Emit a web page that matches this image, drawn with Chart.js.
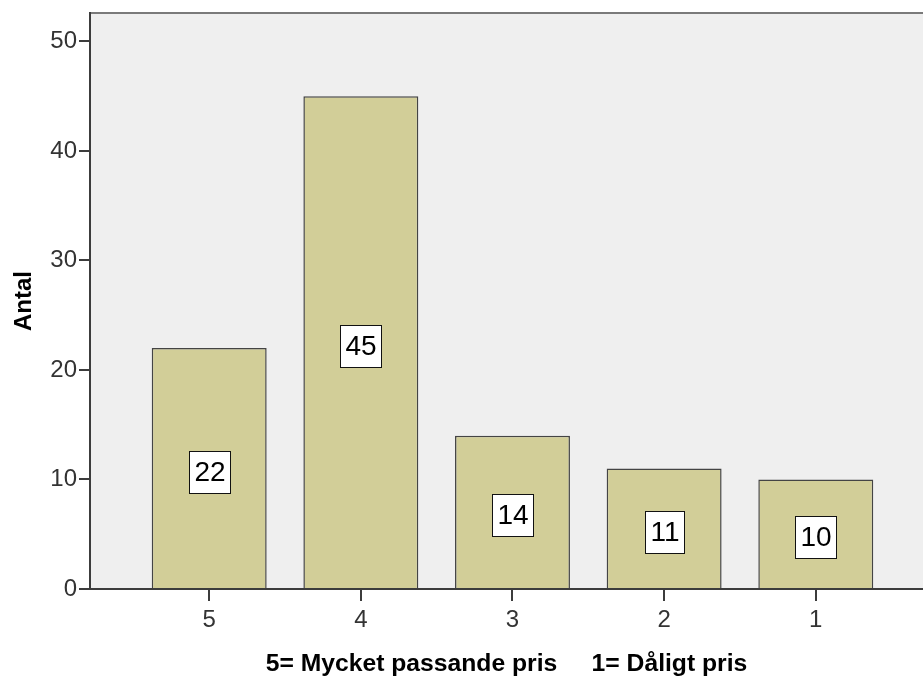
<!DOCTYPE html>
<html>
<head>
<meta charset="utf-8">
<script src="https://cdn.jsdelivr.net/npm/chart.js@4/dist/chart.umd.min.js"></script>
<style>
  html, body { margin: 0; padding: 0; background: #fff; overflow: hidden; }
  canvas { display: block; }
</style>
</head>
<body>
<canvas id="chart" width="923" height="677"></canvas>
<script>
const categories = ["5", "4", "3", "2", "1"]
const counts = [22, 45, 14, 11, 10]
const yTicks = [0, 10, 20, 30, 40, 50]
const yTitle = "Antal"
const xTitle = "5= Mycket passande pris     1= Dåligt pris"

const FONT = "'Liberation Sans', Arial, sans-serif"
const AXIS = "#3c3c3c"

// grey panel behind the bars plus the top frame line
const plotBackground = {
    id: "plotBackground",
    beforeDraw(chart) {
        const { ctx, chartArea: a } = chart
        ctx.save()
        ctx.fillStyle = "#efefef"
        ctx.fillRect(a.left, a.top, a.right - a.left, a.bottom - a.top)
        ctx.strokeStyle = "#7a7a7a"
        ctx.lineWidth = 2
        ctx.beginPath()
        ctx.moveTo(a.left, a.top)
        ctx.lineTo(a.right, a.top)
        ctx.stroke()
        ctx.restore()
    },
}

// boxed count in the middle of each bar
const boxedLabels = {
    id: "boxedLabels",
    afterDatasetsDraw(chart) {
        const { ctx } = chart
        const meta = chart.getDatasetMeta(0)
        ctx.save()
        ctx.font = "28px " + FONT
        ctx.textAlign = "center"
        ctx.textBaseline = "middle"
        meta.data.forEach((bar, i) => {
            const text = String(counts[i])
            const w = Math.round(ctx.measureText(text).width + 10)
            const h = 42
            const left = Math.round(bar.x - w / 2) + 0.5
            const top = Math.round((bar.y + bar.base) / 2 + 3.5 - h / 2) + 0.5
            ctx.fillStyle = "#fff"
            ctx.fillRect(left, top, w, h)
            ctx.strokeStyle = "#111"
            ctx.lineWidth = 1
            ctx.strokeRect(left, top, w, h)
            ctx.fillStyle = "#000"
            ctx.fillText(text, left + w / 2, top + h / 2 + 1)
        })
        ctx.restore()
    },
}

new Chart(document.getElementById("chart"), {
    type: "bar",
    data: {
        datasets: [
            {
                label: yTitle,
                data: counts.map((v, i) => ({ x: i, y: v })),
                backgroundColor: "#d2ce98",
                borderColor: "#444",
                borderWidth: 1.5,
                borderSkipped: "bottom",
                barPercentage: 0.758,
                categoryPercentage: 1,
            },
        ],
    },
    options: {
        responsive: false,
        animation: false,
        layout: { padding: { top: 13, left: 0, right: 0, bottom: 0 } },
        plugins: {
            legend: { display: false },
            tooltip: { enabled: false },
        },
        scales: {
            x: {
                type: "linear",
                offset: false,
                min: -0.786,
                max: 4.707,
                afterBuildTicks: (scale) => {
                    scale.ticks = categories.map((c, i) => ({ value: i }))
                },
                afterFit: (scale) => {
                    scale.height = 88
                    scale.paddingLeft = 0
                    scale.paddingRight = 0
                },
                ticks: {
                    callback: (value) => categories[value],
                    font: { family: FONT, size: 24 },
                    color: "#333",
                    padding: 5,
                    maxRotation: 0,
                },
                grid: {
                    offset: false,
                    drawOnChartArea: false,
                    drawTicks: true,
                    tickLength: 12,
                    color: AXIS,
                    lineWidth: 2,
                },
                border: { display: true, color: AXIS, width: 2 },
                title: {
                    display: true,
                    text: xTitle,
                    font: { family: FONT, size: 24.7, weight: "bold", lineHeight: 1 },
                    color: "#000",
                    padding: { top: 0, bottom: 0 },
                },
            },
            y: {
                min: 0,
                max: 52.6,
                afterBuildTicks: (scale) => {
                    scale.ticks = yTicks.map((v) => ({ value: v }))
                },
                afterFit: (scale) => {
                    scale.width = 90
                    scale.paddingTop = 0
                    scale.paddingBottom = 0
                },
                ticks: {
                    font: { family: FONT, size: 24 },
                    color: "#333",
                    padding: 2,
                },
                grid: {
                    drawOnChartArea: false,
                    drawTicks: true,
                    tickLength: 11,
                    color: AXIS,
                    lineWidth: 2,
                },
                border: { display: true, color: AXIS, width: 2 },
                title: {
                    display: true,
                    text: yTitle,
                    font: { family: FONT, size: 24, weight: "bold" },
                    color: "#000",
                    padding: { top: 10, bottom: 0 },
                },
            },
        },
    },
    plugins: [plotBackground, boxedLabels],
})
</script>
</body>
</html>
